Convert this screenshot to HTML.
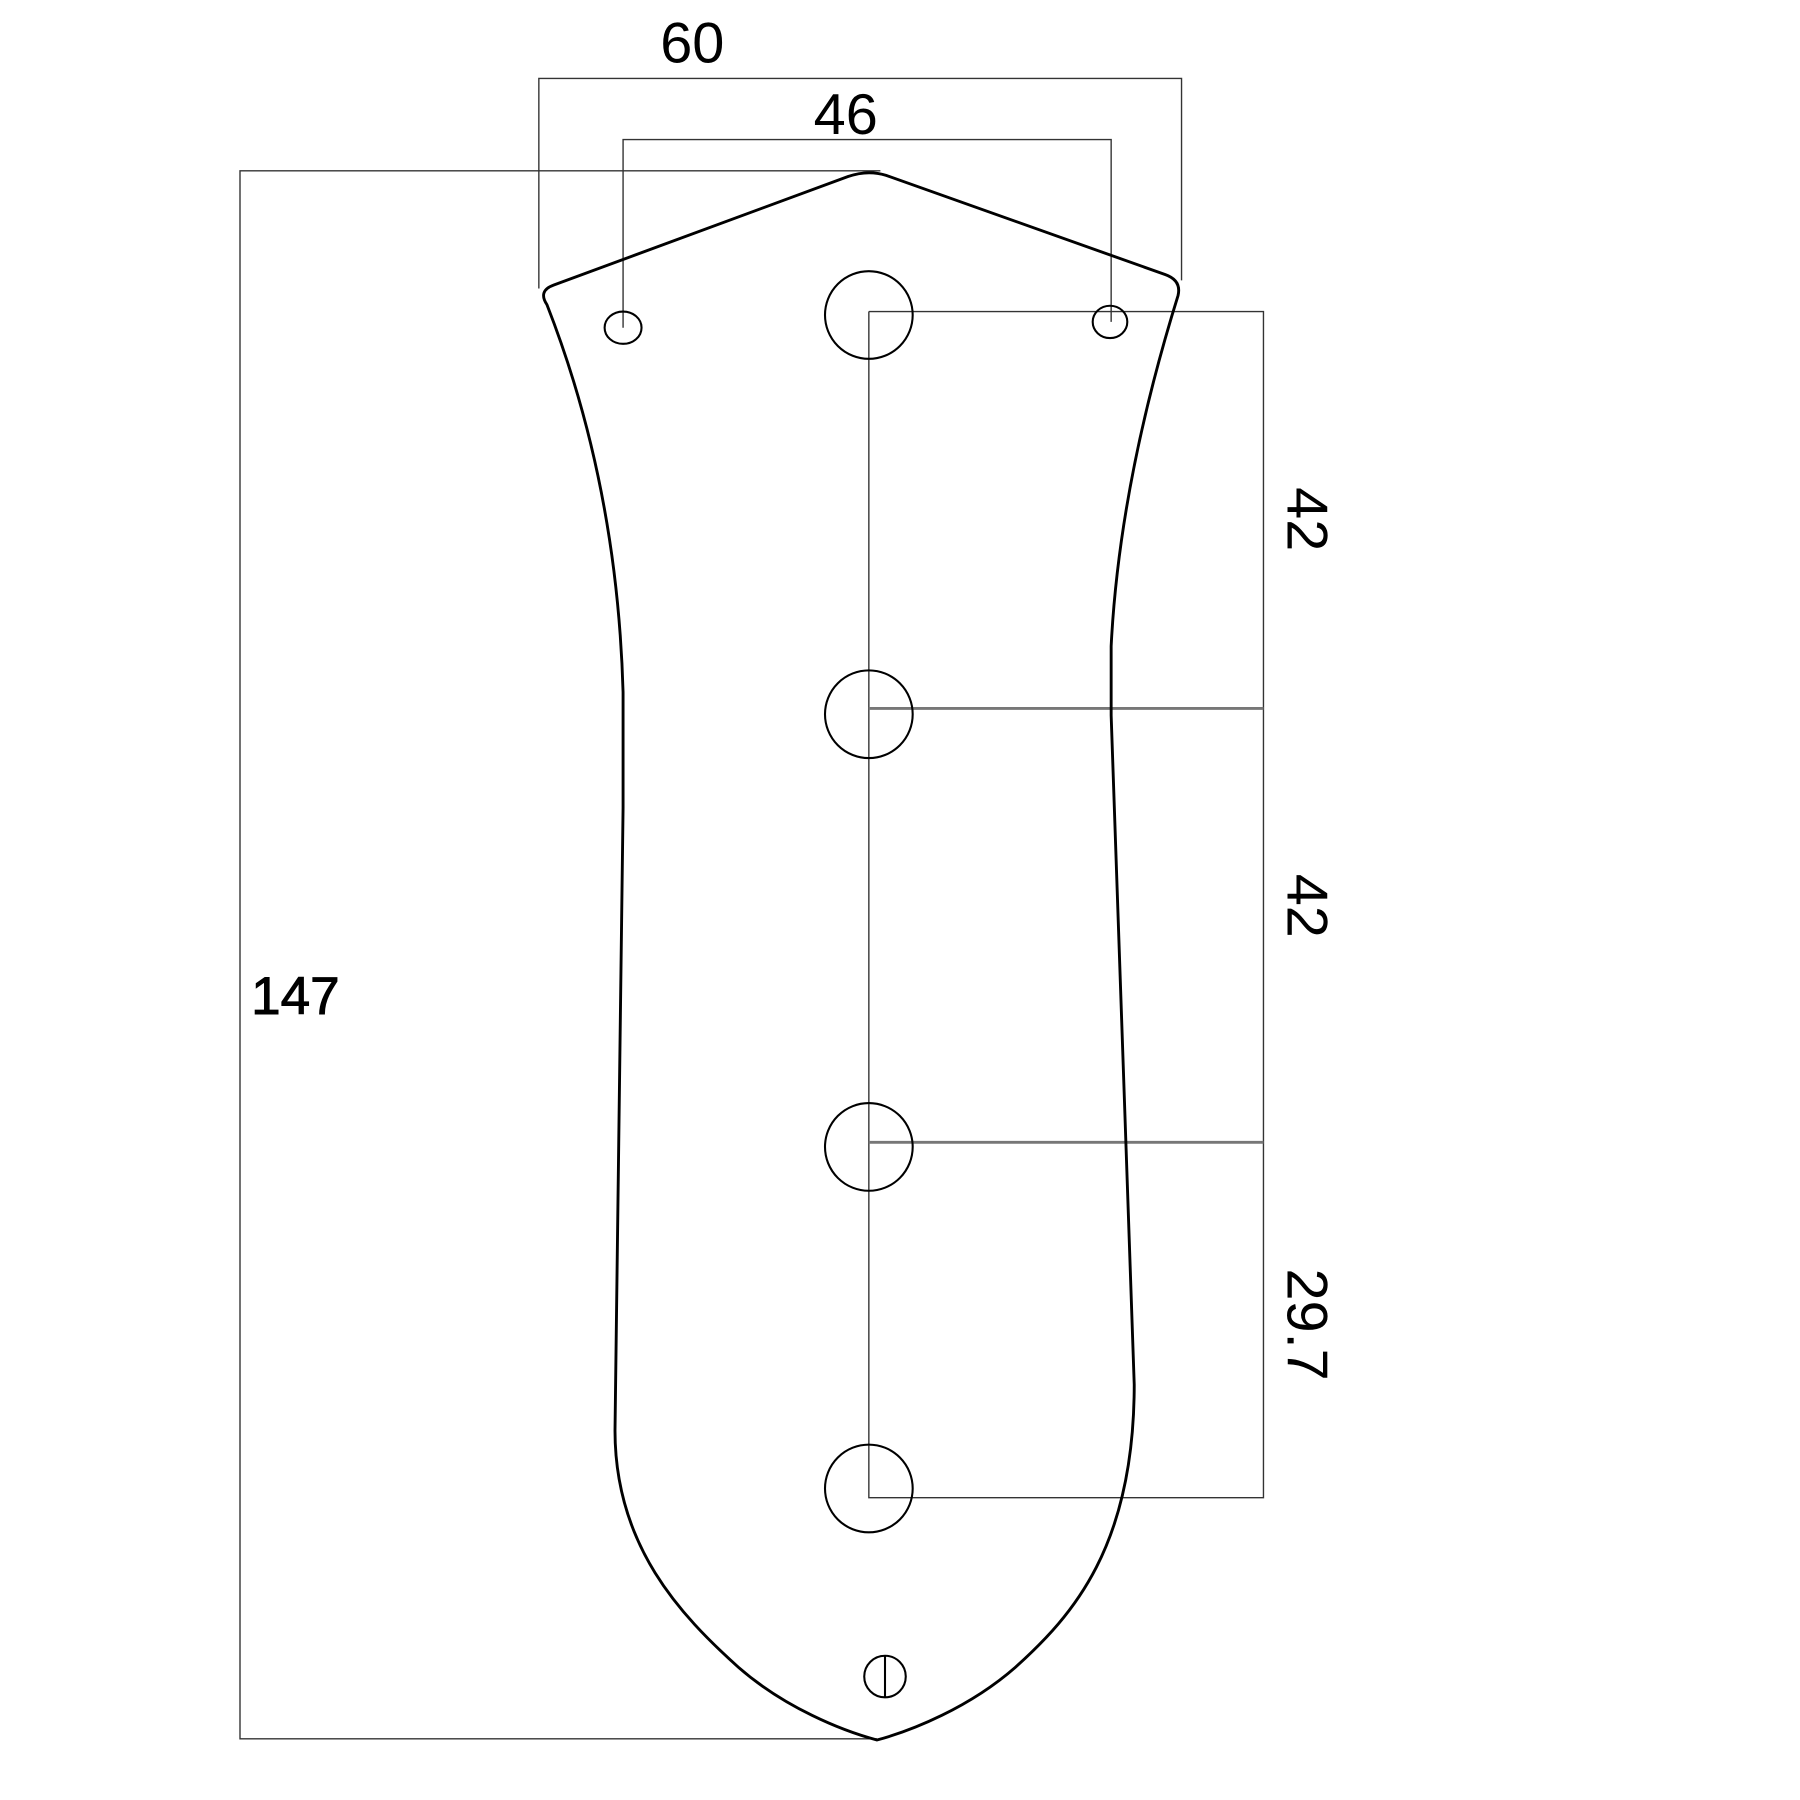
<!DOCTYPE html>
<html><head><style>html,body{margin:0;padding:0;background:#fff}svg{display:block}</style></head>
<body>
<svg width="1800" height="1800" viewBox="0 0 1560 1560" xmlns="http://www.w3.org/2000/svg">
<g fill="none" stroke="#333" stroke-width="1.2">
<polyline points="467,250 467,68 1024,68 1024,243"/>
<polyline points="540,284 540,121 963,121 963,279"/>
<polyline points="763,148 208,148 208,1507 760,1507"/>
<polyline points="753,270 1095,270 1095,1298 753,1298 753,270"/>
</g>
<g stroke="#777" stroke-width="2.5">
<line x1="753" y1="614" x2="1095" y2="614"/>
<line x1="753" y1="990" x2="1095" y2="990"/>
</g>
<path fill="none" stroke="#000" stroke-width="2.5" d="M735,153 Q752,147 768,152 L1010,238 Q1024,243 1021,256 Q970,420 963,560 L963,620 L983,1200 C983,1340 930,1400 880,1445 C840,1480 790,1500 760,1508 C730,1500 680,1480 640,1445 C590,1400 533,1340 533,1240 L540,700 L540,600 Q535,420 474,264 Q466,252 480,247 Z"/>
<g fill="none" stroke="#000" stroke-width="1.8">
<circle cx="753" cy="273" r="38"/>
<circle cx="753" cy="619" r="38"/>
<circle cx="753" cy="994" r="38"/>
<circle cx="753" cy="1290" r="38"/>
<ellipse cx="540" cy="284" rx="16" ry="14"/>
<ellipse cx="962" cy="279" rx="15" ry="14"/>
<circle cx="767" cy="1453" r="18"/>
<line x1="767" y1="1435" x2="767" y2="1471"/>
</g>
<g font-family="Liberation Sans, sans-serif" font-size="50" fill="#000">
<text x="600" y="54" text-anchor="middle">60</text>
<text x="733" y="116" text-anchor="middle">46</text>
<text x="256" y="879" text-anchor="middle" font-size="46" stroke="#000" stroke-width="0.8">147</text>
<text transform="translate(1116,450) rotate(90)" text-anchor="middle">42</text>
<text transform="translate(1116,785) rotate(90)" text-anchor="middle">42</text>
<text transform="translate(1116,1148) rotate(90)" text-anchor="middle">29.7</text>
</g>
</svg>
</body></html>
